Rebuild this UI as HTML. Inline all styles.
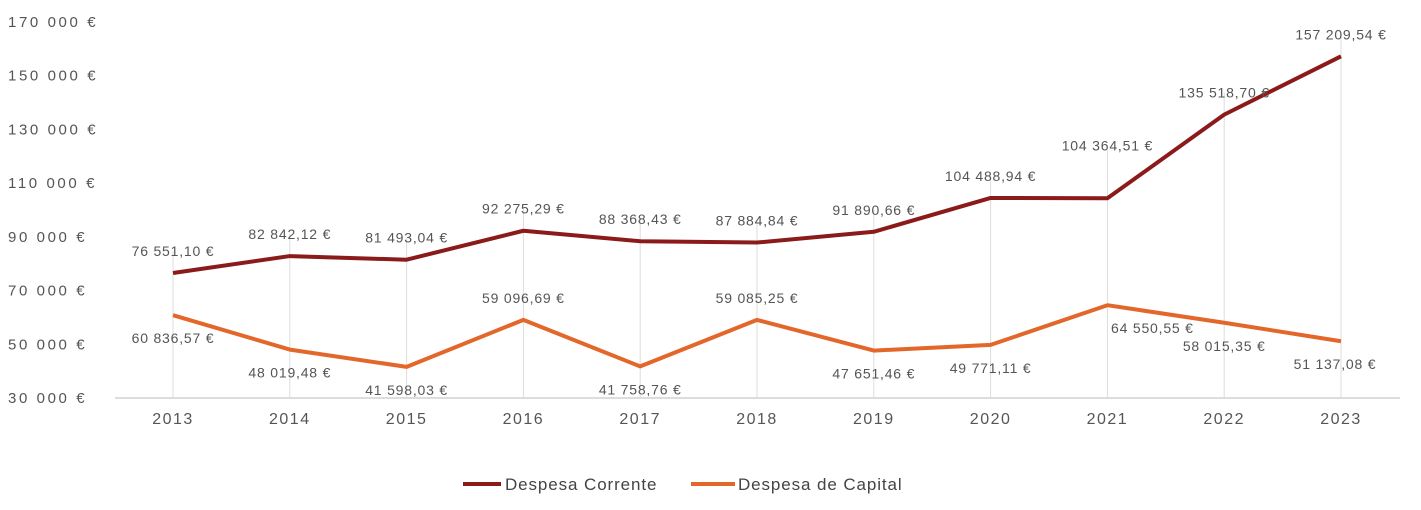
<!DOCTYPE html>
<html><head><meta charset="utf-8"><style>
body{margin:0;background:#fff;}
svg{display:block;font-family:"Liberation Sans",sans-serif;}
</style></head><body>
<svg id="chart" width="1421" height="510"></svg>
<script>
const years=["2013","2014","2015","2016","2017","2018","2019","2020","2021","2022","2023"];
const corrente=[76551.10,82842.12,81493.04,92275.29,88368.43,87884.84,91890.66,104488.94,104364.51,135518.70,157209.54];
const capital=[60836.57,48019.48,41598.03,59096.69,41758.76,59085.25,47651.46,49771.11,64550.55,58015.35,51137.08];
const correnteLabels=["76 551,10 €","82 842,12 €","81 493,04 €","92 275,29 €","88 368,43 €","87 884,84 €","91 890,66 €","104 488,94 €","104 364,51 €","135 518,70 €","157 209,54 €"];
const capitalLabels=["60 836,57 €","48 019,48 €","41 598,03 €","59 096,69 €","41 758,76 €","59 085,25 €","47 651,46 €","49 771,11 €","64 550,55 €","58 015,35 €","51 137,08 €"];
const capitalAbove=[false,false,false,true,false,true,false,false,false,false,false];
const yTicks=[30000,50000,70000,90000,110000,130000,150000,170000];
const yTickLabels=["30 000 €","50 000 €","70 000 €","90 000 €","110 000 €","130 000 €","150 000 €","170 000 €"];

const svg=document.getElementById('chart');
const NS='http://www.w3.org/2000/svg';
const x=i=>173+i*116.8;
const y=v=>398-(v-30000)*(376/140000);
function mk(t,a){const e=document.createElementNS(NS,t);for(const k in a)e.setAttribute(k,a[k]);svg.appendChild(e);return e;}

yTicks.forEach((t,i)=>{
  const e=mk('text',{x:8,y:y(t)+5,'font-size':15,fill:'#555','letter-spacing':2.6});
  e.textContent=yTickLabels[i];
  
  
});
const ax=mk('line',{x1:115,x2:1400,y1:398,y2:398,stroke:'#bbb','stroke-width':1});



years.forEach((yr,i)=>{
  const top=Math.min(y(corrente[i]),y(capital[i]))-(i===8?48:22);
  const g=mk('line',{x1:x(i),x2:x(i),y1:top,y2:398,stroke:'#ddd','stroke-width':1});
  
  
  const t=mk('text',{x:x(i),y:424,'font-size':16,fill:'#555','text-anchor':'middle','letter-spacing':1.5});
  t.textContent=yr;
  
  
});

function series(vals,color,name){
  const d=vals.map((v,i)=>(i?'L':'M')+x(i)+','+y(v)).join(' ');
  const p=mk('path',{d:d,fill:'none',stroke:color,'stroke-width':4,'stroke-linejoin':'round'});
  
  
}
series(corrente,'#8B1A1A','series-despesa-corrente');
series(capital,'#E3672A','series-despesa-capital');

corrente.forEach((v,i)=>{
  const dy=i===8?-48:-17;
  const t=mk('text',{x:x(i),y:y(v)+dy,'font-size':14,fill:'#555','text-anchor':'middle','letter-spacing':0.8});
  t.textContent=correnteLabels[i];
  
  
});
capital.forEach((v,i)=>{
  const dy=capitalAbove[i]?-17:28;
  const dx=i===8?45:(i===10?-6:0);
  const t=mk('text',{x:x(i)+dx,y:y(v)+dy,'font-size':14,fill:'#555','text-anchor':'middle','letter-spacing':0.8});
  t.textContent=capitalLabels[i];
  
  
});

const l1=mk('line',{x1:463,x2:501,y1:484,y2:484,stroke:'#8B1A1A','stroke-width':4});


const lt1=mk('text',{x:505,y:490,'font-size':17,fill:'#444','letter-spacing':0.9});
lt1.textContent='Despesa Corrente';


const l2=mk('line',{x1:691,x2:735,y1:484,y2:484,stroke:'#E3672A','stroke-width':4});


const lt2=mk('text',{x:738,y:490,'font-size':17,fill:'#444','letter-spacing':0.9});
lt2.textContent='Despesa de Capital';


</script>
</body></html>
